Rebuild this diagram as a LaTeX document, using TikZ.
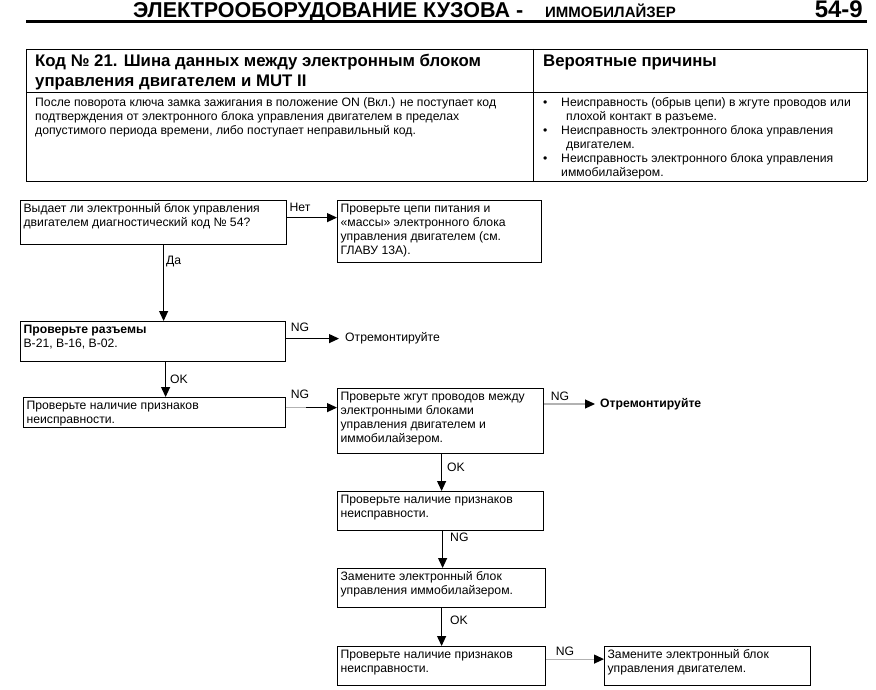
\documentclass[tikz,border=0pt]{standalone}
\usepackage{fontspec}
\setmainfont{Liberation Sans}
\usetikzlibrary{arrows.meta}
\newcommand\bx[3]{\parbox[c][#2pt][t]{#1pt}{\raggedright\strut #3}}
\newcommand\tl[1]{\begin{tabular}[t]{@{}l@{}}#1\end{tabular}}
\begin{document}
\begin{tikzpicture}[x=1pt,y=-1pt,
  box/.style={draw, line width=1.2pt, inner xsep=3pt, inner ysep=2pt, anchor=north west, font=\fontsize{12.2}{14}\selectfont},
  arr/.style={line width=1.2pt, -{Triangle[length=10pt,width=9pt]}},
  lbl/.style={font=\fontsize{12.2}{14}\selectfont, inner sep=0pt},
  txt/.style={font=\fontsize{12.2}{14}\selectfont, inner sep=0pt, anchor=base west},
  tline/.style={line width=0.9pt}]
\useasboundingbox (0,0) rectangle (876,690);
% header
\node[inner sep=0pt, anchor=base west, font=\fontsize{21.5}{24}\selectfont\bfseries] (title) at (133,18) {ЭЛЕКТРООБОРУДОВАНИЕ КУЗОВА -};
\node[inner sep=0pt, anchor=base west, font=\fontsize{15}{16}\selectfont\bfseries] (sub) at (545,18) {ИММОБИЛАЙЗЕР};
\node[inner sep=0pt, anchor=base east, font=\fontsize{24}{26}\selectfont\bfseries] (page) at (863,18) {54-9};
\draw[line width=3pt] (26,22) -- (867,22);
% table
\draw[tline] (26,49) -- (867,49) (26,92) -- (867,92) (26,181) -- (867,181)
  (26,49) -- (26,181) (533,49) -- (533,181) (867,49) -- (867,181);
\node[txt, font=\fontsize{16.8}{20}\selectfont\bfseries] (th1) at (35,67) {\tl{Код № 21. Шина данных между электронным блоком\\управления двигателем и MUT II}};
\node[txt, font=\fontsize{16.8}{20}\selectfont\bfseries] (th2) at (543,67) {Вероятные причины};
\node[txt] (td1) at (35,107) {\tl{После поворота ключа замка зажигания в положение ON (Вкл.) не поступает код\\подтверждения от электронного блока управления двигателем в пределах\\допустимого периода времени, либо поступает неправильный код.}};
\node[txt] (td2) at (543,107) {\tl{\makebox[18pt][l]{\textbullet}Неисправность (обрыв цепи) в жгуте проводов или\\\hspace*{23pt}плохой контакт в разъеме.\\\makebox[18pt][l]{\textbullet}Неисправность электронного блока управления\\\hspace*{23pt}двигателем.\\\makebox[18pt][l]{\textbullet}Неисправность электронного блока управления\\\hspace*{18pt}иммобилайзером.}};
% flowchart boxes
\node[box] (b1) at (20,200) {\bx{260}{40}{Выдает ли электронный блок управления\\двигателем диагностический код № 54?}};
\node[box] (b2) at (337,200) {\bx{198}{58}{Проверьте цепи питания и\\«массы» электронного блока\\управления двигателем (см.\\ГЛАВУ 13А).}};
\node[box] (b3) at (20,321) {\bx{259}{36}{\textbf{Проверьте разъемы}\\B-21, B-16, B-02.}};
\node[box] (b4) at (23,397) {\bx{256}{26}{Проверьте наличие признаков\\неисправности.}};
\node[box] (b5) at (337,388) {\bx{200}{61}{Проверьте жгут проводов между\\электронными блоками\\управления двигателем и\\иммобилайзером.}};
\node[box] (b6) at (337,491) {\bx{200}{35}{Проверьте наличие признаков\\неисправности.}};
\node[box] (b7) at (337,568) {\bx{202}{35}{Замените электронный блок\\управления иммобилайзером.}};
\node[box] (b8) at (337,646) {\bx{202}{35}{Проверьте наличие признаков\\неисправности.}};
\node[box] (b9) at (604,646) {\bx{200}{35}{Замените электронный блок\\управления двигателем.}};
\node[lbl, anchor=west] (r1) at (345,338) {Отремонтируйте};
\node[lbl, anchor=west, font=\fontsize{12.2}{14}\selectfont\bfseries] (r2) at (600,404) {Отремонтируйте};
% connectors
\draw[arr] ([yshift=5pt]b1.east) -- ([yshift=5pt]b1.east -| b2.west);
\node[lbl] (ln1) at (300,207) {Нет};
\draw[arr] ([xshift=10pt]b1.south) -- ([xshift=10pt]b1.south |- b3.north);
\node[lbl, anchor=west] (ld1) at (166,262) {Да};
\draw[arr, shorten >=6pt] ([yshift=3pt]b3.east) -- ([yshift=3pt]b3.east -| r1.west);
\node[lbl] (ln2) at (300,327) {NG};
\draw[arr] ([xshift=12.5pt]b3.south) -- ([xshift=12.5pt]b3.south |- b4.north);
\node[lbl, anchor=west] (lo1) at (170,379) {OK};
\draw[arr] ([yshift=5pt]b4.east) -- ([yshift=5pt]b4.east -| b5.west);
\draw[line width=1.2pt, gray!60] ([yshift=5pt]b4.east) -- ([yshift=5pt,xshift=20pt]b4.east);
\node[lbl] (ln3) at (300,394) {NG};
\draw[line width=1.2pt, gray!60, shorten >=5pt, -{Triangle[length=10pt,width=9pt,black]}] (b5.east |- r2.west) -- (r2.west);
\node[lbl] (ln4) at (560,396) {NG};
\draw[arr] ([xshift=1pt]b5.south) -- ([xshift=1pt]b5.south |- b6.north);
\node[lbl, anchor=west] (lo2) at (447,467) {OK};
\draw[arr] ([xshift=2pt]b6.south) -- ([xshift=2pt]b6.south |- b7.north);
\node[lbl, anchor=west] (ln5) at (450,537) {NG};
\draw[arr] (b7.south) -- (b7.south |- b8.north);
\node[lbl, anchor=west] (lo3) at (450,620) {OK};
\draw[line width=1.2pt, gray!60, -{Triangle[length=10pt,width=9pt,black]}] ([yshift=7pt]b8.east) -- ([yshift=7pt]b8.east -| b9.west);
\node[lbl] (ln6) at (565,651) {NG};
\end{tikzpicture}
\end{document}
